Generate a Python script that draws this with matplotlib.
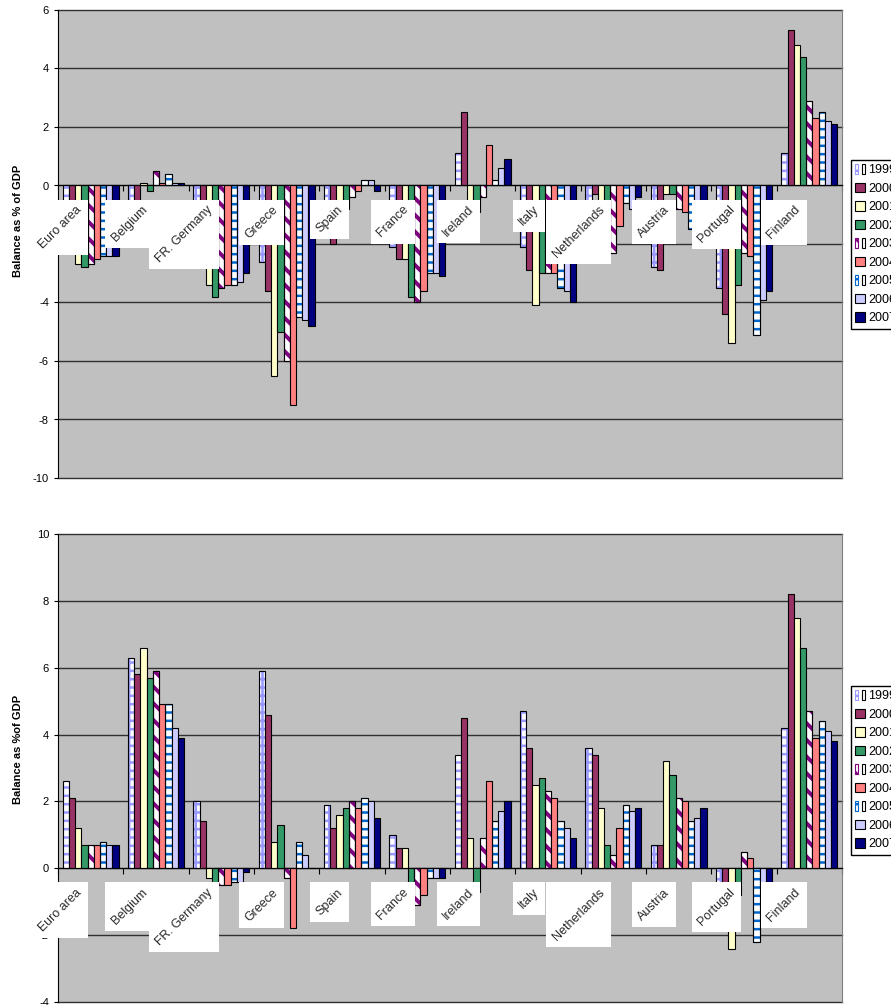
import numpy as np
import matplotlib
matplotlib.use("Agg")
import matplotlib.pyplot as plt
from matplotlib.patches import Rectangle
from matplotlib.transforms import IdentityTransform
from matplotlib.legend_handler import HandlerTuple

plt.rcParams['font.family'] = ['Liberation Sans', 'DejaVu Sans']
plt.rcParams['axes.unicode_minus'] = False
plt.rcParams['hatch.linewidth'] = 1.8

countries = ["Euro area", "Belgium", "FR. Germany", "Greece", "Spain", "France",
             "Ireland", "Italy", "Netherlands", "Austria", "Portugal", "Finland"]
years = ["1999", "2000", "2001", "2002", "2003", "2004", "2005", "2006", "2007"]

# budget balance, % of GDP
bal_1999 = [-1.8, -0.6, -1.6, -2.6, -1.0, -2.1, 1.1, -2.1, -0.8, -2.8, -3.5, 1.1]
bal_2000 = [-2.0, -0.6, -1.9, -3.6, -2.0, -2.5, 2.5, -2.9, -0.3, -2.9, -4.4, 5.3]
bal_2001 = [-2.7, 0.1, -3.4, -6.5, -1.0, -2.5, -1.0, -4.1, -1.0, -0.3, -5.4, 4.8]
bal_2002 = [-2.8, -0.2, -3.8, -5.0, -0.8, -3.8, -0.9, -3.0, -1.2, -0.3, -3.4, 4.4]
bal_2003 = [-2.7, 0.5, -3.5, -6.0, -0.4, -4.0, -0.4, -3.0, -2.3, -0.8, -2.3, 2.9]
bal_2004 = [-2.5, 0.1, -3.4, -7.5, -0.2, -3.6, 1.4, -3.0, -1.4, -0.9, -2.4, 2.3]
bal_2005 = [-2.4, 0.4, -3.4, -4.5, 0.2, -3.0, 0.2, -3.5, -0.6, -1.5, -5.1, 2.5]
bal_2006 = [-2.4, 0.1, -3.3, -4.6, 0.2, -3.0, 0.6, -3.6, -0.8, -1.0, -3.9, 2.2]
bal_2007 = [-2.4, 0.1, -3.0, -4.8, -0.2, -3.1, 0.9, -4.0, -0.4, -0.8, -3.6, 2.1]

# primary balance, % of GDP
prim_1999 = [2.6, 6.3, 2.0, 5.9, 1.9, 1.0, 3.4, 4.7, 3.6, 0.7, -0.6, 4.2]
prim_2000 = [2.1, 5.8, 1.4, 4.6, 1.2, 0.6, 4.5, 3.6, 3.4, 0.7, -1.0, 8.2]
prim_2001 = [1.2, 6.6, -0.3, 0.8, 1.6, 0.6, 0.9, 2.5, 1.8, 3.2, -2.4, 7.5]
prim_2002 = [0.7, 5.7, -0.5, 1.3, 1.8, -0.6, -0.7, 2.7, 0.7, 2.8, -0.8, 6.6]
prim_2003 = [0.7, 5.9, -0.5, -0.3, 2.0, -1.1, 0.9, 2.3, 0.4, 2.1, 0.5, 4.7]
prim_2004 = [0.7, 4.9, -0.5, -1.8, 1.8, -0.8, 2.6, 2.1, 1.2, 2.0, 0.3, 3.9]
prim_2005 = [0.8, 4.9, -0.4, 0.8, 2.1, -0.3, 1.4, 1.4, 1.9, 1.4, -2.2, 4.4]
prim_2006 = [0.7, 4.2, -0.4, 0.4, 2.0, -0.3, 1.7, 1.2, 1.7, 1.5, -0.6, 4.1]
prim_2007 = [0.7, 3.9, -0.1, 0.0, 1.5, -0.3, 2.0, 0.9, 1.8, 1.8, -0.5, 3.8]

balance = [bal_1999, bal_2000, bal_2001, bal_2002, bal_2003,
           bal_2004, bal_2005, bal_2006, bal_2007]
primary = [prim_1999, prim_2000, prim_2001, prim_2002, prim_2003,
           prim_2004, prim_2005, prim_2006, prim_2007]

# face colour, hatch, hatch colour for each year (excel-like fills)
styles = [
    ("white", "++", "#9999FF"),
    ("#993366", None, None),
    ("#FFFFCC", None, None),
    ("#339966", None, None),
    ("white", "\\\\", "#800080"),
    ("#FF8080", None, None),
    ("white", "--", "#0066CC"),
    ("#CCCCFF", None, None),
    ("#000080", None, None),
]

fig = plt.figure(figsize=(8.91, 10.05), dpi=100)
ax_top = fig.add_axes([58 / 891, 1 - 478 / 1005, 784 / 891, 468 / 1005])
ax_bot = fig.add_axes([58 / 891, 1 - 1002 / 1005, 784 / 891, 468 / 1005])


def draw_panel(ax, series, ymin, ymax, ylabel, label_y, legend_top):
    x = np.arange(len(countries))
    width = 0.095
    handles = []
    for j, (vals, (face, hatch, hcol)) in enumerate(zip(series, styles)):
        pos = x + (j - 4) * width
        if hatch:
            b1 = ax.bar(pos, vals, width, color=face, edgecolor=hcol,
                        hatch=hatch, linewidth=0.8, zorder=2)
            if hatch.startswith("\\"):
                for p in b1.patches:
                    if hasattr(p, "set_hatch_linewidth"):
                        p.set_hatch_linewidth(2.8)
            b2 = ax.bar(pos, vals, width, fill=False, edgecolor="black",
                        linewidth=0.8, zorder=3)
            handles.append((b1, b2))
        else:
            b = ax.bar(pos, vals, width, color=face, edgecolor="black",
                       linewidth=0.8, zorder=3)
            handles.append(b)

    ax.set_facecolor("#C0C0C0")
    ax.set_xlim(-0.5, len(countries) - 0.5)
    ax.set_ylim(ymin, ymax)
    ax.set_yticks(np.arange(ymin, ymax + 1, 2))
    ax.yaxis.grid(True, color="#303030", linewidth=1.0)
    ax.set_axisbelow(True)
    for gl in ax.get_ygridlines():
        gl.set_clip_on(False)

    ax.spines["bottom"].set_position(("data", 0))
    ax.spines["bottom"].set_zorder(4)
    ax.spines["top"].set_visible(False)
    ax.spines["right"].set_color("#808080")
    ax.spines["left"].set_color("black")
    ax.set_xticks(np.arange(len(countries) + 1) - 0.5)
    ax.set_xticklabels([])
    ax.tick_params(axis="x", direction="out", length=4, width=0.8)
    ax.tick_params(axis="y", direction="out", length=3, width=0.8, labelsize=8)

    ax.set_ylabel(ylabel, fontsize=8, fontweight="bold")
    ax.yaxis.set_label_coords(-0.045, label_y)

    ax.legend(handles, years, loc="upper left",
              bbox_to_anchor=(851 / 891, legend_top), bbox_transform=fig.transFigure,
              handler_map={tuple: HandlerTuple(ndivide=None)},
              fontsize=9, handlelength=0.75, handleheight=0.75, handletextpad=0.25,
              labelspacing=0.52, borderpad=0.35, borderaxespad=0,
              frameon=True, fancybox=False, edgecolor="black", framealpha=1)

    texts = []
    for i, name in enumerate(countries):
        t = ax.annotate(name, xy=(i, 0), xytext=(-4.7, -13), textcoords="offset points",
                        ha="right", va="top", rotation=45, fontsize=9,
                        color="#2a2a2a", zorder=11 + 2 * i, annotation_clip=False)
        texts.append(t)
    return texts


top_texts = draw_panel(ax_top, balance, -10, 6, "Balance as % of GDP", 0.55, 1 - 160 / 1005)
bot_texts = draw_panel(ax_bot, primary, -4, 10, "Balance as %of GDP", 0.54, 1 - 686 / 1005)

# white boxes behind the category labels, aligned to the screen axes
fig.canvas.draw()
renderer = fig.canvas.get_renderer()
pad = 4
for ax, texts in ((ax_top, top_texts), (ax_bot, bot_texts)):
    for t in texts:
        bb = t.get_window_extent(renderer)
        box = Rectangle((bb.x0 - pad, bb.y0 - pad), bb.width + 2 * pad, bb.height + 2 * pad,
                        transform=IdentityTransform(), facecolor="white",
                        edgecolor="none", zorder=t.get_zorder() - 1, clip_on=False)
        ax.add_artist(box)

fig.savefig("out.png", dpi=100)
